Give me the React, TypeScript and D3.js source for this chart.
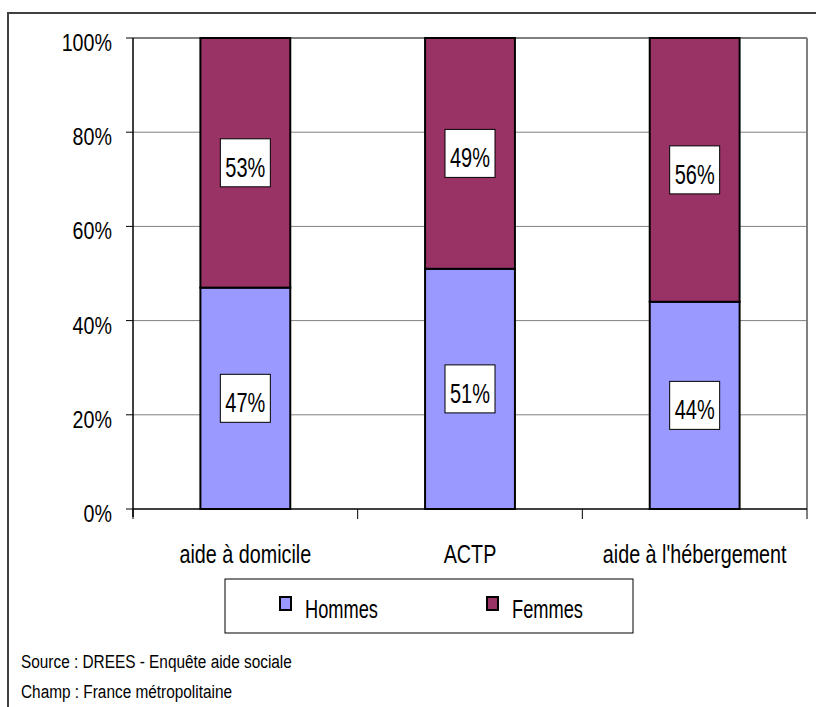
import React from "react";
import * as d3 from "d3";

const categories = ["aide à domicile", "ACTP", "aide à l'hébergement"];
const hommes = [47, 51, 44];
const femmes = [53, 49, 56];
const yTicks = [0, 20, 40, 60, 80, 100];
const seriesNames = ["Hommes", "Femmes"];
const seriesColors = ["#9999FF", "#993366"];
const sourceLines = ["Source : DREES - Enquête aide sociale", "Champ : France métropolitaine"];

const W = 816;
const H = 707;
const FONT = "'Liberation Sans', Arial, sans-serif";

function NText(props: { x: number; y: number; sx: number; size: number; anchor?: string; children: React.ReactNode }) {
  return (
    <text
      transform={`translate(${props.x},${props.y}) scale(${props.sx},1)`}
      textAnchor={props.anchor || "start"}
      fontSize={props.size}
      fill="#000"
    >
      {props.children}
    </text>
  );
}

export default function App() {
  const left = 133, right = 807, top = 38, bottom = 509;
  const x = d3.scaleBand<string>().domain(categories).range([left, right]).paddingInner(0).paddingOuter(0);
  const y = d3.scaleLinear().domain([0, 100]).range([bottom, top]);
  const bw = x.bandwidth() * 0.4;

  const stacked = categories.map((c, i) => {
    const segs = [
      { v: hommes[i], y0: 0, y1: hommes[i], color: seriesColors[0] },
      { v: femmes[i], y0: hommes[i], y1: hommes[i] + femmes[i], color: seriesColors[1] },
    ];
    return { c, segs };
  });

  const boundaries = [...categories.map((c) => x(c)!), right];

  return (
    <svg width={W} height={H} style={{ position: "absolute", left: 0, top: 0, background: "#fff" }} fontFamily={FONT}>
      <rect x={0} y={0} width={W} height={H} fill="#fff" />
      {/* outer frame */}
      <path d={`M8,${H} L8,13 L${W},13`} fill="none" stroke="#404040" strokeWidth={2} />

      {/* gridlines */}
      {yTicks.filter((t) => t > 0).map((t) => (
        <line key={t} x1={left} x2={right} y1={y(t)} y2={y(t)} stroke="#808080" strokeWidth={t === 100 ? 2 : 1} />
      ))}
      <line x1={right} x2={right} y1={top} y2={bottom} stroke="#808080" strokeWidth={2} />

      {/* bars */}
      {stacked.map((s) => {
        const cx = x(s.c)! + x.bandwidth() / 2;
        return (
          <g key={s.c}>
            {s.segs.map((seg, j) => (
              <rect key={j} x={cx - bw / 2} y={y(seg.y1)} width={bw} height={y(seg.y0) - y(seg.y1)} fill={seg.color} stroke="#000" strokeWidth={2} />
            ))}
            {s.segs.map((seg, j) => {
              const my = y((seg.y0 + seg.y1) / 2);
              return (
                <g key={"l" + j}>
                  <rect x={cx - 25} y={my - 24} width={50} height={48} fill="#fff" stroke="#000" strokeWidth={1} />
                  <NText x={cx} y={my + 14} sx={0.74} size={27} anchor="middle">{seg.v}%</NText>
                </g>
              );
            })}
          </g>
        );
      })}

      {/* y axis */}
      <line x1={left} x2={left} y1={top} y2={bottom + 8} stroke="#000" strokeWidth={1.5} />
      {yTicks.map((t) => (
        <g key={t}>
          <line x1={left - 7} x2={left} y1={y(t)} y2={y(t)} stroke="#000" strokeWidth={1} />
          <NText x={112} y={y(t) + 13} sx={0.82} size={24} anchor="end">{t}%</NText>
        </g>
      ))}

      {/* x axis */}
      <line x1={left} x2={right} y1={bottom} y2={bottom} stroke="#000" strokeWidth={1.5} />
      {boundaries.map((b, i) => (
        <line key={i} x1={b} x2={b} y1={bottom} y2={bottom + 10} stroke="#000" strokeWidth={1} />
      ))}
      {categories.map((c) => (
        <NText key={c} x={x(c)! + x.bandwidth() / 2} y={563} sx={0.79} size={25} anchor="middle">{c}</NText>
      ))}

      {/* legend */}
      <rect x={225} y={579} width={408} height={54} fill="#fff" stroke="#000" strokeWidth={1} />
      {seriesNames.map((n, i) => {
        const lx = [280, 487][i];
        return (
          <g key={n}>
            <rect x={lx} y={597} width={11} height={13} fill={seriesColors[i]} stroke="#000" strokeWidth={2} />
            <NText x={lx + 25} y={618} sx={0.73} size={25}>{n}</NText>
          </g>
        );
      })}

      {/* footer */}
      {sourceLines.map((s, i) => (
        <NText key={i} x={21} y={668 + i * 30} sx={0.81} size={19}>{s}</NText>
      ))}
    </svg>
  );
}
